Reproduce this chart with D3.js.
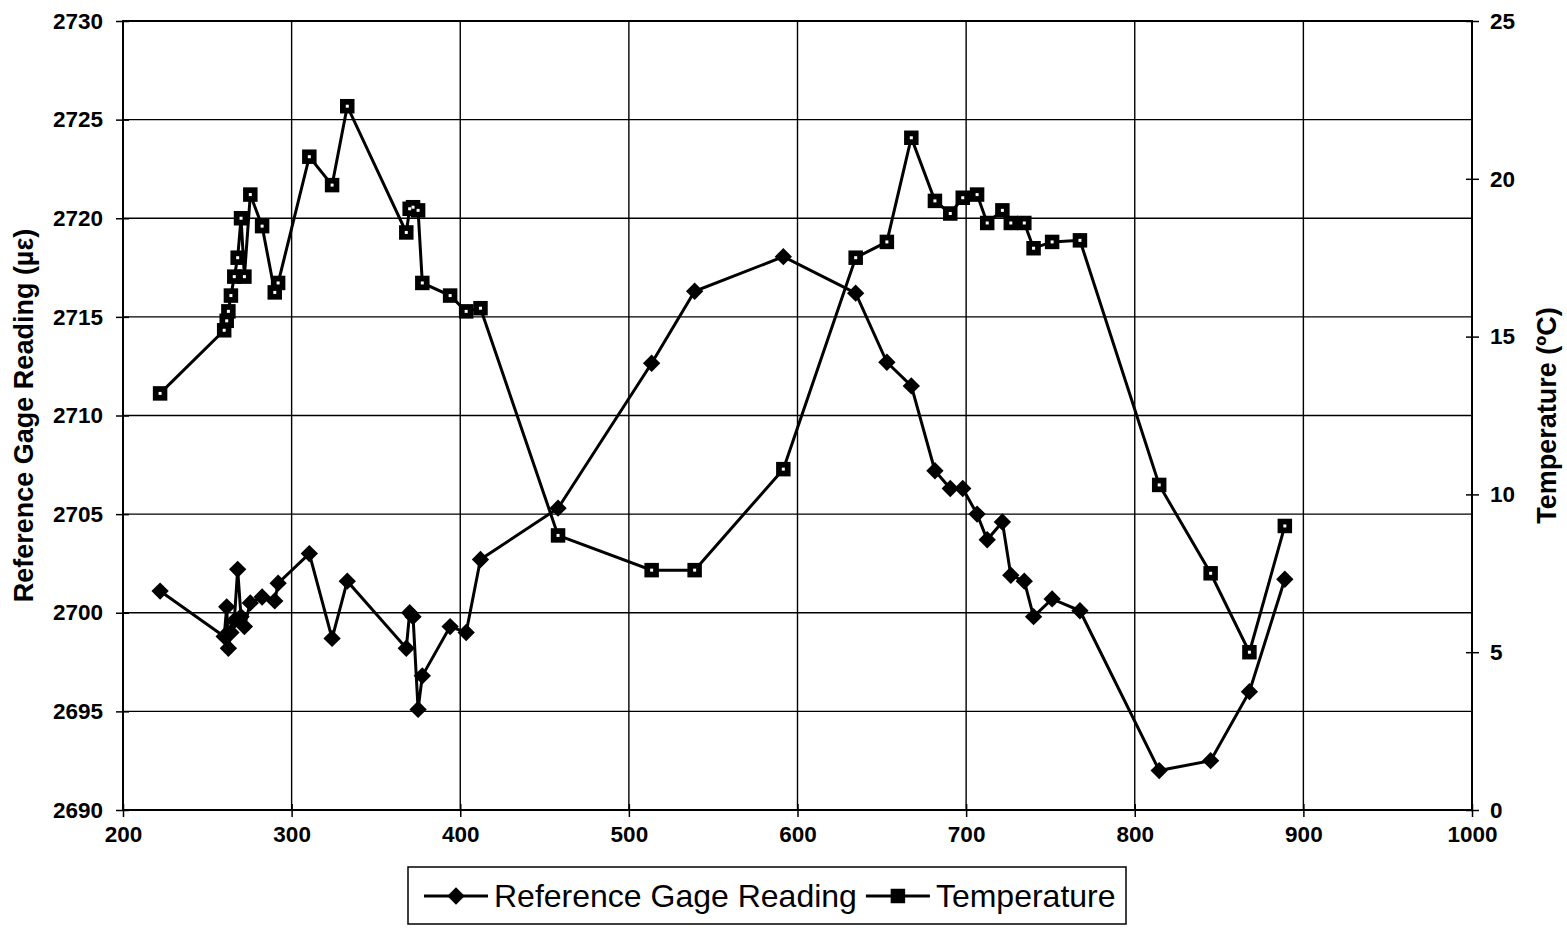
<!DOCTYPE html>
<html>
<head>
<meta charset="utf-8">
<script src="https://cdn.jsdelivr.net/npm/d3@7"></script>
<style>
  body { margin: 0; background: #fff; }
  svg { display: block; }
  text { font-family: "Liberation Sans", Arial, sans-serif; fill: #000; }
</style>
</head>
<body>
<svg id="chart"></svg>
<script>
// shared x values (both series measured at the same points)
const xValues = [222, 260, 261.5, 262.5, 264, 266, 268, 270, 272, 275.5, 282.5, 290, 292,
  310.5, 324, 333, 368, 370, 372, 375, 377.5, 394, 403.5, 412, 458, 513.5, 539, 591.6,
  634.5, 653, 667.5, 681.5, 690.6, 698, 706.5, 712.5, 721.5, 726.5, 734.5, 740, 751, 767.5,
  814.5, 845, 868, 889];

const gageValues = [2701.1, 2698.8, 2700.3, 2698.2, 2699.0, 2699.6, 2702.2, 2699.8, 2699.3, 2700.5, 2700.8, 2700.6, 2701.5,
  2703.0, 2698.7, 2701.6, 2698.2, 2700.0, 2699.8, 2695.1, 2696.8, 2699.3, 2699.0, 2702.7, 2705.3, 2712.65, 2716.3, 2718.05,
  2716.2, 2712.7, 2711.5, 2707.2, 2706.3, 2706.3, 2705.0, 2703.7, 2704.6, 2701.9, 2701.6, 2699.8, 2700.7, 2700.1,
  2692.0, 2692.5, 2696.0, 2701.7];

const tempValues = [13.2, 15.2, 15.5, 15.8, 16.3, 16.9, 17.5, 18.75, 16.9, 19.5, 18.5, 16.4, 16.7,
  20.7, 19.8, 22.3, 18.3, 19.05, 19.1, 19.0, 16.7, 16.3, 15.8, 15.9, 8.7, 7.6, 7.6, 10.8,
  17.5, 18.0, 21.3, 19.3, 18.9, 19.4, 19.5, 18.6, 19.0, 18.6, 18.6, 17.8, 18.0, 18.05,
  10.3, 7.5, 5.0, 9.0];

const xTicks = [200, 300, 400, 500, 600, 700, 800, 900, 1000];
const leftTicks = [2690, 2695, 2700, 2705, 2710, 2715, 2720, 2725, 2730];
const rightTicks = [0, 5, 10, 15, 20, 25];
const seriesNames = ["Reference Gage Reading", "Temperature"];
const leftTitle = "Reference Gage Reading (\u00b5\u03b5)";
const rightTitle = "Temperature (\u00baC)";

const width = 1567, height = 929;
const plotLeft = 123, plotRight = 1472, plotTop = 21, plotBottom = 810;

const svg = d3.select("#chart").attr("width", width).attr("height", height);

const x = d3.scaleLinear().domain([200, 1000]).range([plotLeft, plotRight]);
const yL = d3.scaleLinear().domain([2690, 2730]).range([plotBottom, plotTop]);
const yR = d3.scaleLinear().domain([0, 25]).range([plotBottom, plotTop]);

// gridlines
const grid = svg.append("g").attr("stroke", "#000").attr("stroke-width", 1.4);
grid.selectAll(".gx")
  .data(xTicks)
  .enter().append("line")
  .attr("x1", d => x(d)).attr("x2", d => x(d))
  .attr("y1", plotTop).attr("y2", plotBottom);
grid.selectAll(".gy")
  .data(leftTicks)
  .enter().append("line")
  .attr("x1", plotLeft).attr("x2", plotRight)
  .attr("y1", d => yL(d)).attr("y2", d => yL(d));

// axes
const tickFont = g => g.selectAll("text")
  .style("font-size", "22.5px").style("font-weight", "bold");

const xAxisG = svg.append("g")
  .attr("transform", "translate(0," + plotBottom + ")")
  .call(d3.axisBottom(x).tickValues(xTicks).tickSize(7).tickPadding(9).tickFormat(d3.format("d")));
xAxisG.call(tickFont);

const yAxisG = svg.append("g")
  .attr("transform", "translate(" + plotLeft + ",0)")
  .call(d3.axisLeft(yL).tickValues(leftTicks).tickSize(7).tickPadding(13).tickFormat(d3.format("d")));
yAxisG.call(tickFont);

const yRAxisG = svg.append("g")
  .attr("transform", "translate(" + plotRight + ",0)")
  .call(d3.axisRight(yR).tickValues(rightTicks).tickSize(7).tickPadding(11).tickFormat(d3.format("d")));
yRAxisG.call(tickFont);

[xAxisG, yAxisG, yRAxisG].forEach(g => {
  g.select(".domain").remove();
  g.selectAll(".tick line").attr("stroke", "#000").attr("stroke-width", 1.5);
  g.selectAll("text").attr("fill", "#000");
});

// inner halves of the cross ticks
yAxisG.selectAll(".tick").append("line").attr("x2", 6).attr("stroke", "#000").attr("stroke-width", 1.5);
yRAxisG.selectAll(".tick").append("line").attr("x2", -6).attr("stroke", "#000").attr("stroke-width", 1.5);
xAxisG.selectAll(".tick").append("line").attr("y2", -6).attr("stroke", "#000").attr("stroke-width", 1.5);

// plot frame
svg.append("rect")
  .attr("x", plotLeft).attr("y", plotTop)
  .attr("width", plotRight - plotLeft).attr("height", plotBottom - plotTop)
  .attr("fill", "none").attr("stroke", "#000").attr("stroke-width", 2);

// axis titles
svg.append("text")
  .attr("transform", "translate(33," + ((plotTop + plotBottom) / 2) + ") rotate(-90)")
  .attr("text-anchor", "middle")
  .style("font-size", "27px").style("font-weight", "bold")
  .text(leftTitle);

svg.append("text")
  .attr("transform", "translate(1556," + ((plotTop + plotBottom) / 2) + ") rotate(-90)")
  .attr("text-anchor", "middle")
  .style("font-size", "27px").style("font-weight", "bold")
  .text(rightTitle);

// series
const pts = xValues.map((v, i) => ({ x: v, g: gageValues[i], t: tempValues[i] }));

const gageLine = d3.line().x(d => x(d.x)).y(d => yL(d.g));
const tempLine = d3.line().x(d => x(d.x)).y(d => yR(d.t));

const diamond = d3.symbol().type(d3.symbolSquare).size(150);
const square = d3.symbol().type(d3.symbolSquare).size(210);

svg.append("path")
  .datum(pts)
  .attr("d", tempLine)
  .attr("fill", "none").attr("stroke", "#000").attr("stroke-width", 3);

svg.append("path")
  .datum(pts)
  .attr("d", gageLine)
  .attr("fill", "none").attr("stroke", "#000").attr("stroke-width", 3);

svg.selectAll(".sq")
  .data(pts)
  .enter().append("path")
  .attr("d", square)
  .attr("transform", d => "translate(" + x(d.x) + "," + yR(d.t) + ")")
  .attr("fill", "#000");

svg.selectAll(".sqdot")
  .data(pts)
  .enter().append("rect")
  .attr("x", d => x(d.x) - 1.5).attr("y", d => yR(d.t) - 1.5)
  .attr("width", 3).attr("height", 3)
  .attr("fill", "#fff");

svg.selectAll(".dm")
  .data(pts)
  .enter().append("path")
  .attr("d", diamond)
  .attr("transform", d => "translate(" + x(d.x) + "," + yL(d.g) + ") rotate(45)")
  .attr("fill", "#000");

// legend, laid out item after item
const legend = svg.append("g");
legend.append("rect")
  .attr("x", 408).attr("y", 867).attr("width", 718).attr("height", 57)
  .attr("fill", "#fff").attr("stroke", "#000").attr("stroke-width", 1.5);

const legendItems = [
  { name: seriesNames[0], sym: diamond, rot: 45 },
  { name: seriesNames[1], sym: square, rot: 0 }
];
let lx = 424;
legendItems.forEach(it => {
  legend.append("line")
    .attr("x1", lx).attr("x2", lx + 64)
    .attr("y1", 896).attr("y2", 896)
    .attr("stroke", "#000").attr("stroke-width", 3);
  legend.append("path")
    .attr("d", it.sym)
    .attr("transform", "translate(" + (lx + 32) + ",896) rotate(" + it.rot + ")")
    .attr("fill", "#000");
  const t = legend.append("text")
    .attr("x", lx + 70).attr("y", 907)
    .style("font-size", "32px")
    .text(it.name);
  lx = lx + 70 + t.node().getComputedTextLength() + 9;
});
</script>
</body>
</html>
